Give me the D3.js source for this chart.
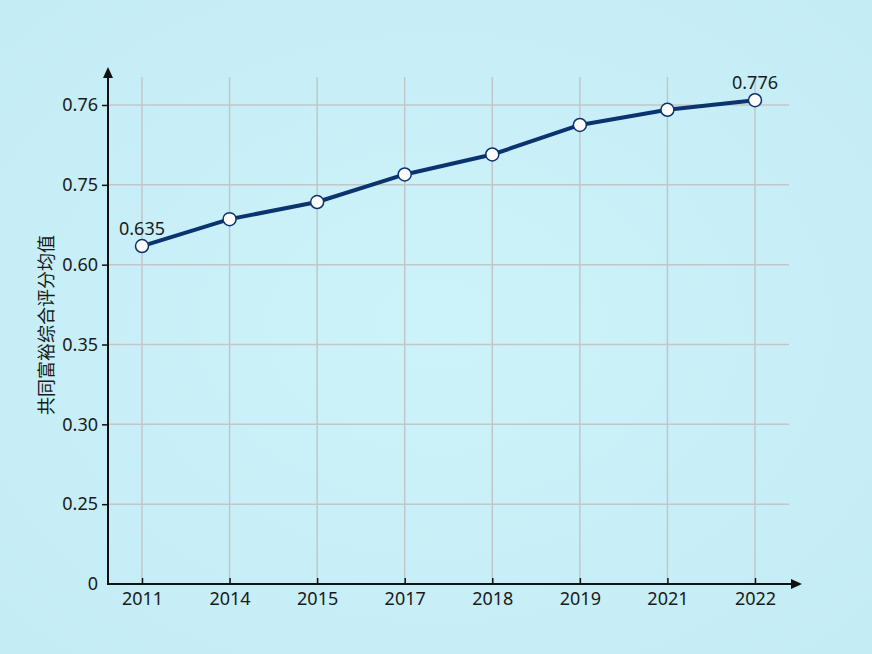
<!DOCTYPE html>
<html><head><meta charset="utf-8">
<script src="https://cdn.jsdelivr.net/npm/d3@7"></script>
<style>
html,body{margin:0;padding:0;background:#c9eff7;}
svg{display:block;}
</style></head>
<body>
<script>
const years = ["2011","2014","2015","2017","2018","2019","2021","2022"];
const values = [0.635, 0.6855, 0.7177, 0.7513, 0.7538, 0.7575, 0.7594, 0.7606];
const yTickValues = [0, 0.25, 0.30, 0.35, 0.60, 0.75, 0.76];
const yTickLabels = ["0", "0.25", "0.30", "0.35", "0.60", "0.75", "0.76"];
const annotations = [{year:"2011", text:"0.635"}, {year:"2022", text:"0.776"}];
const yTitle = "共同富裕综合评分均值";

const W = 872, H = 654;
const svg = d3.select("body").append("svg").attr("width", W).attr("height", H);

const defs = svg.append("defs");
const rg = defs.append("radialGradient").attr("id","bg").attr("cx","50%").attr("cy","50%").attr("r","70%");
rg.append("stop").attr("offset","0%").attr("stop-color","#cdf3fa");
rg.append("stop").attr("offset","100%").attr("stop-color","#c4ecf5");
svg.append("rect").attr("width",W).attr("height",H).attr("fill","url(#bg)");

const x0 = 108, yBase = 584;
const x = d3.scalePoint().domain(years).range([142, 755]);
const yRange = yTickValues.map((d,i) => yBase - i * (yBase - 105) / (yTickValues.length - 1));
const y = d3.scaleLinear().domain(yTickValues).range(yRange);

const font = "'Noto Sans','Open Sans',sans-serif";

// grid
const grid = svg.append("g").attr("stroke","#c2c6c8").attr("stroke-width",1.5);
grid.selectAll("line.v").data(years).join("line")
  .attr("x1", d => x(d)).attr("x2", d => x(d)).attr("y1", 77).attr("y2", yBase);
grid.selectAll("line.h").data(yTickValues.slice(1)).join("line")
  .attr("x1", x0).attr("x2", 789).attr("y1", d => y(d)).attr("y2", d => y(d));

// y axis
const yAxis = d3.axisLeft(y).tickValues(yTickValues)
  .tickFormat((d,i) => yTickLabels[i]).tickSize(6).tickPadding(4);
const gy = svg.append("g").attr("transform", `translate(${x0},0)`).call(yAxis);
gy.select(".domain").remove();
gy.selectAll(".tick line").attr("stroke","#111").attr("stroke-width",1.5);
gy.selectAll(".tick text").attr("font-family", font).attr("font-size", 18).attr("fill","#1a1a1a");
gy.selectAll(".tick").filter(d => d === 0).select("line").remove();

// x axis
const xAxis = d3.axisBottom(x).tickSize(0).tickPadding(8);
const gx = svg.append("g").attr("transform", `translate(0,${yBase})`).call(xAxis);
gx.select(".domain").remove();
gx.selectAll(".tick text").attr("font-family", font).attr("font-size", 18).attr("fill","#1a1a1a");
gx.selectAll(".tick").append("line").attr("y1",0).attr("y2",-6).attr("stroke","#111").attr("stroke-width",1.5);

// axis lines with arrows
svg.append("line").attr("x1", x0).attr("x2", x0).attr("y1", yBase+1).attr("y2", 74)
  .attr("stroke","#111").attr("stroke-width",2);
svg.append("path").attr("d", `M${x0-5},${78} L${x0},${67} L${x0+5},${78} Z`).attr("fill","#111");
svg.append("line").attr("x1", x0-1).attr("x2", 795).attr("y1", yBase).attr("y2", yBase)
  .attr("stroke","#111").attr("stroke-width",2);
svg.append("path").attr("d", `M${791},${yBase-5} L${802},${yBase} L${791},${yBase+5} Z`).attr("fill","#111");

// y title
svg.append("text").attr("transform", "translate(53,325) rotate(-90)")
  .attr("text-anchor","middle").attr("font-family","'Noto Sans CJK SC',sans-serif")
  .attr("font-size",18).attr("fill","#1a1a1a").text(yTitle);

// line
const data = years.map((d,i) => ({year:d, value:values[i]}));
svg.append("path").datum(data)
  .attr("fill","none").attr("stroke","#0b3370").attr("stroke-width",4).attr("stroke-linejoin","round")
  .attr("d", d3.line().x(d => x(d.year)).y(d => y(d.value)));
svg.selectAll("circle.pt").data(data).join("circle")
  .attr("cx", d => x(d.year)).attr("cy", d => y(d.value)).attr("r", 6.5)
  .attr("fill","#fff").attr("stroke","#0b3370").attr("stroke-width",1.5);

// annotations
svg.selectAll("text.ann").data(annotations).join("text")
  .attr("x", d => x(d.year)).attr("y", d => y(values[years.indexOf(d.year)]) - 11)
  .attr("text-anchor","middle").attr("font-family", font).attr("font-size",18).attr("fill","#1a1a1a")
  .text(d => d.text);
</script>
</body></html>
